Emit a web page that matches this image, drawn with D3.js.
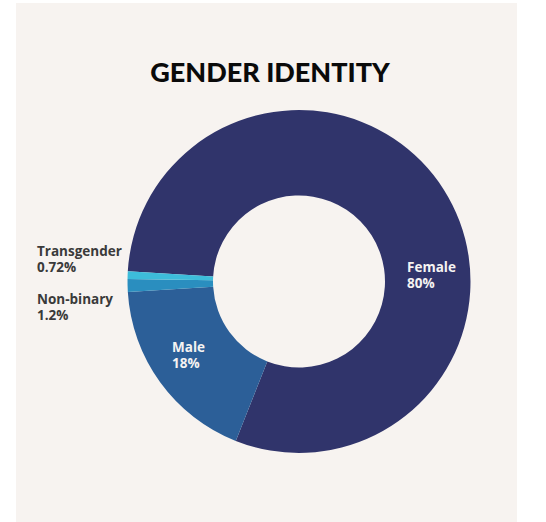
<!DOCTYPE html>
<html>
<head>
<meta charset="utf-8">
<script src="https://cdn.jsdelivr.net/npm/d3@7/dist/d3.min.js"></script>
<style>
  body { margin: 0; background: #ffffff; }
  svg { display: block; }
</style>
</head>
<body>
<svg id="chart" width="546" height="522"></svg>
<script>
// data
var categories = ["Female", "Male", "Non-binary", "Transgender"];
var values = [80, 18, 1.2, 0.72];
var valueLabels = ["80%", "18%", "1.2%", "0.72%"];
var colors = ["#30346b", "#2c5f98", "#2a8ebf", "#3dbcda"];

// label placement relative to the donut centre (x, first baseline)
var labelPos = [[108, -9.5], [-127, 70.5], [-262, 22.5], [-262, -25.5]];
var labelFill = ["#f5f3f2", "#f5f3f2", "#3a3a3a", "#3a3a3a"];

var width = 546, height = 522;
var cx = 299, cy = 281.5;
var outerR = 171.5, innerR = 86;

var svg = d3.select("#chart");

// panel
svg.append("rect")
  .attr("x", 16)
  .attr("y", 3)
  .attr("width", 501)
  .attr("height", 519)
  .attr("fill", "#f7f3f0");

// title
svg.append("text")
  .attr("x", 270)
  .attr("y", 82)
  .attr("text-anchor", "middle")
  .style("font-family", "Lato, 'DejaVu Sans', sans-serif")
  .style("font-weight", 900)
  .style("font-size", "27px")
  .style("fill", "#0a0a0a")
  .text("GENDER IDENTITY");

var data = categories.map(function(c, i) {
  return {name: c, value: values[i], label: valueLabels[i]};
});

var pie = d3.pie()
  .sort(null)
  .value(function(d) { return d.value; })
  .startAngle(-86.6 * Math.PI / 180)
  .endAngle((360 - 86.6) * Math.PI / 180);

var arc = d3.arc()
  .innerRadius(innerR)
  .outerRadius(outerR);

var g = svg.append("g")
  .attr("transform", "translate(" + cx + "," + cy + ")");

g.selectAll("path")
  .data(pie(data))
  .enter().append("path")
  .attr("d", arc)
  .attr("fill", function(d, i) { return colors[i]; });

// labels
var labels = g.selectAll("text.lab")
  .data(data)
  .enter().append("text")
  .attr("class", "lab")
  .attr("x", function(d, i) { return labelPos[i][0]; })
  .attr("y", function(d, i) { return labelPos[i][1]; })
  .style("font-family", "'Open Sans', sans-serif")
  .style("font-weight", 700)
  .style("font-size", "13.5px")
  .style("fill", function(d, i) { return labelFill[i]; });

labels.append("tspan")
  .text(function(d) { return d.name; });

labels.append("tspan")
  .attr("x", function(d, i) { return labelPos[i][0]; })
  .attr("dy", 15.5)
  .text(function(d) { return d.label; });
</script>
</body>
</html>
